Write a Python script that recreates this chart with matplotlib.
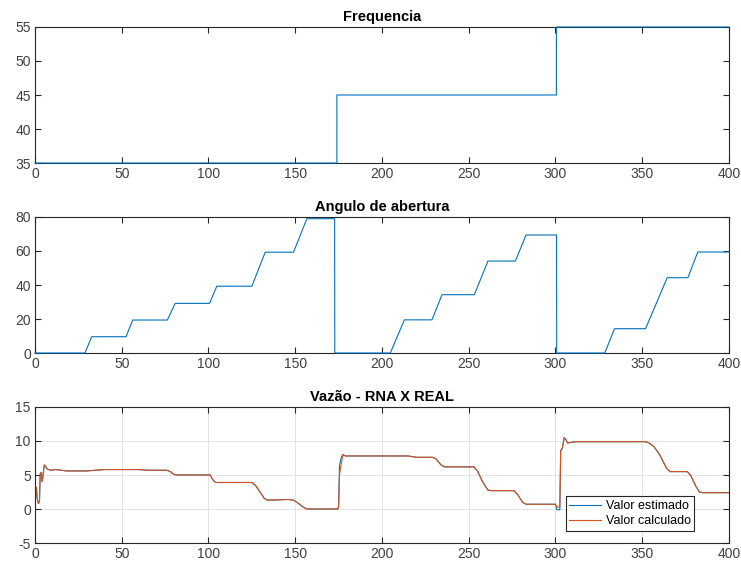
import matplotlib.pyplot as plt

plt.rcParams['font.family'] = ['Liberation Sans', 'DejaVu Sans']
plt.rcParams['axes.unicode_minus'] = False

# Frequencia
freq_t = [0, 174.0, 174.01, 300.5, 300.51, 400]
freq_val = [35, 35, 45, 45, 55, 55]

# Angulo de abertura
ang_t = [0, 28.8, 32.7, 52.5, 56.3, 76.3, 80.8, 100.6, 104.8, 125.0, 132.7,
         149.0, 156.7, 172.7, 172.8, 204.8, 212.9, 228.8, 234.6, 253.2, 261.1,
         276.9, 283.0, 300.6, 300.7, 328.4, 334.0, 351.9, 364.4, 376.3, 382.0, 400]
ang_val = [0, 0, 9.6, 9.6, 19.4, 19.4, 29.2, 29.2, 39.3, 39.3, 59.3,
           59.3, 79.0, 79.0, 0, 0, 19.5, 19.5, 34.3, 34.3, 54.1,
           54.1, 69.4, 69.4, 0, 0, 14.3, 14.3, 44.3, 44.3, 59.4, 59.4]

# Vazao - RNA X REAL
vazao_t = [0, 0.3, 0.8, 1.3, 2.0, 2.6, 3.0, 3.6, 4.0, 4.5, 5.3, 6.0, 7.0, 9.0,
           12, 18, 30, 40, 60, 65, 76, 78, 80, 82, 101, 102.5, 104, 125, 127,
           130, 132, 134, 146, 149, 152, 155, 157, 174.5, 175, 175.5, 176.5,
           177.5, 179, 215, 220, 229, 231, 234, 236, 253, 255, 258, 261, 263,
           276, 278, 281, 283, 300, 300.8, 302.5, 303, 304, 305, 306, 307, 309,
           312, 352, 354, 357, 360, 362, 364, 366, 376, 378, 381, 383, 385, 400]
vazao_calc = [1.0, 2.8, 3.2, 1.5, 0.8, 1.2, 5.2, 5.4, 4.0, 4.6, 6.5, 6.3, 5.9, 5.7,
              5.8, 5.6, 5.6, 5.8, 5.8, 5.7, 5.7, 5.5, 5.1, 5.0, 5.0, 4.3, 3.9, 3.9, 3.5,
              2.4, 1.6, 1.3, 1.4, 1.3, 0.8, 0.2, 0.0, 0.0, 0.2, 5.0, 6.6,
              8.0, 7.8, 7.8, 7.6, 7.6, 7.4, 6.5, 6.2, 6.2, 5.6, 4.0, 2.8, 2.7,
              2.7, 2.2, 1.0, 0.7, 0.7, 0.3, 0.3, 8.5, 9.0, 10.5, 10.2, 9.7, 9.8,
              9.9, 9.9, 9.7, 9.1, 8.0, 7.0, 6.0, 5.5, 5.5, 4.9, 3.3, 2.5, 2.4, 2.4]
vazao_est = [0.0, 2.6, 3.1, 1.5, 0.8, 1.2, 5.0, 5.4, 4.1, 4.6, 6.4, 6.3, 5.9, 5.7,
             5.8, 5.6, 5.6, 5.8, 5.8, 5.7, 5.7, 5.5, 5.1, 5.0, 5.0, 4.3, 3.9, 3.9, 3.5,
             2.4, 1.6, 1.3, 1.4, 1.3, 0.8, 0.2, 0.0, 0.0, 0.4, 6.3, 7.6,
             8.0, 7.8, 7.8, 7.6, 7.6, 7.4, 6.5, 6.2, 6.2, 5.6, 4.0, 2.8, 2.7,
             2.7, 2.2, 1.0, 0.7, 0.7, -0.1, -0.1, 8.6, 9.0, 10.5, 10.2, 9.7, 9.8,
             9.9, 9.9, 9.7, 9.1, 8.0, 7.0, 6.0, 5.5, 5.5, 4.9, 3.3, 2.5, 2.4, 2.4]

xticks = list(range(0, 401, 50))

blue = '#0072BD'
orange = '#D95319'
axis_col = '#262626'

fig = plt.figure(figsize=(7.41, 5.67), dpi=100)
left, width, height = 0.0472, 0.9366, 0.2399
ax1 = fig.add_axes([left, 0.7125, width, height])
ax2 = fig.add_axes([left, 0.3774, width, height])
ax3 = fig.add_axes([left, 0.0423, width, height])

ax1.plot(freq_t, freq_val, color=blue, lw=0.8, zorder=3, clip_on=False)
ax1.set_ylim(35, 55)
ax1.set_yticks([35, 40, 45, 50, 55])
ax1.set_title('Frequencia', fontsize=10.5, fontweight='bold', pad=4)

ax2.plot(ang_t, ang_val, color=blue, lw=0.8, zorder=3, clip_on=False)
ax2.set_ylim(0, 80)
ax2.set_yticks([0, 20, 40, 60, 80])
ax2.set_title('Angulo de abertura', fontsize=10.5, fontweight='bold', pad=4)

ax3.plot(vazao_t, vazao_est, color=blue, lw=0.8, label='Valor estimado')
ax3.plot(vazao_t, vazao_calc, color=orange, lw=0.8, label='Valor calculado')
ax3.set_ylim(-5, 15)
ax3.set_yticks([-5, 0, 5, 10, 15])
ax3.grid(True, color='#e3e3e3', lw=0.7)
ax3.set_axisbelow(True)
ax3.set_title('Vazão - RNA X REAL', fontsize=10.5, fontweight='bold', pad=4)
leg = ax3.legend(loc='lower right', bbox_to_anchor=(0.950, 0.088), fontsize=9,
                 fancybox=False, framealpha=1, edgecolor=axis_col,
                 handlelength=2.5, borderpad=0.3, labelspacing=0.25,
                 handletextpad=0.4, borderaxespad=0)
leg.get_frame().set_linewidth(0.8)

for ax in (ax1, ax2, ax3):
    ax.set_xlim(0, 400)
    ax.set_xticks(xticks)
    ax.tick_params(direction='in', top=True, right=True, length=4, width=0.8,
                   colors=axis_col, labelsize=10, pad=3)
    ax.tick_params(labelcolor='#404040')
    for s in ax.spines.values():
        s.set_color(axis_col)
        s.set_linewidth(0.8)

fig.savefig('out.png', dpi=100)
